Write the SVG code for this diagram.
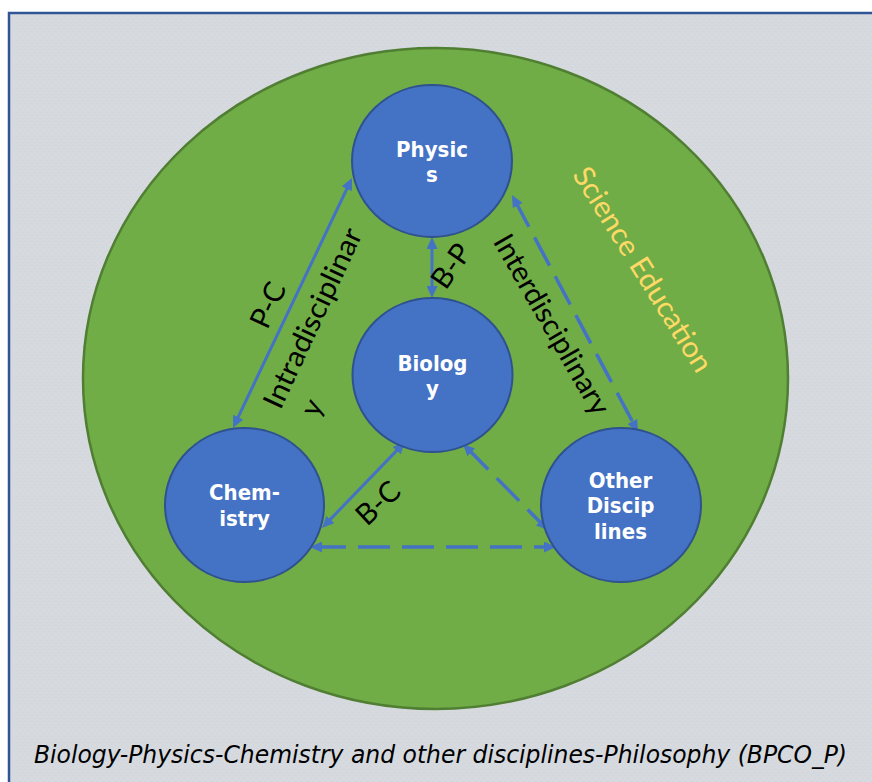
<svg xmlns="http://www.w3.org/2000/svg" width="872" height="782" viewBox="0 0 872 782">
  <style>
    .node-shape { fill: #4472C4; stroke: #2F528F; stroke-width: 2; }
    .node-label { fill: #FFFFFF; font-family: "DejaVu Sans Condensed", "DejaVu Sans", sans-serif; font-stretch: condensed; font-weight: bold; font-size: 22px; text-anchor: middle; }
    .link { fill: none; stroke: #4472C4; stroke-width: 3; }
    .dashed { stroke-width: 3.5; stroke-dasharray: 32 12; }
    .link-label { fill: #000000; font-family: Lato, "Open Sans", sans-serif; font-size: 29px; }
    .field-label { fill: #FFD966; font-family: Lato, "Open Sans", sans-serif; font-size: 29px; }
    .caption { fill: #000000; font-family: "DejaVu Sans Condensed", "DejaVu Sans", sans-serif; font-stretch: condensed; font-style: italic; font-size: 25px; }
  </style>
  <defs>
    <pattern id="dots" width="6" height="6" patternUnits="userSpaceOnUse">
      <rect width="6" height="6" fill="#D7D9DC"/>
      <circle cx="1.5" cy="1.5" r="0.8" fill="#C3D8EE"/>
      <circle cx="4.5" cy="4.5" r="0.8" fill="#C3D8EE"/>
    </pattern>
    <marker id="arrow" viewBox="0 0 12 11" refX="8" refY="5.5" markerWidth="12" markerHeight="11" markerUnits="userSpaceOnUse" orient="auto-start-reverse">
      <path d="M0,0 L12,5.5 L0,11 z" fill="#4472C4"/>
    </marker>
  </defs>

  <!-- page frame -->
  <rect x="0" y="0" width="872" height="782" fill="#FFFFFF"/>
  <rect x="9" y="13" width="880" height="800" fill="url(#dots)" stroke="#2F5597" stroke-width="2.5"/>

  <!-- outer field -->
  <g id="science-education">
    <ellipse cx="435.5" cy="378.5" rx="352.5" ry="330.5" fill="#70AD47" stroke="#507E32" stroke-width="2.5"/>
    <text class="field-label" transform="translate(642,270) rotate(58)" text-anchor="middle" y="9" textLength="236" lengthAdjust="spacingAndGlyphs">Science Education</text>
  </g>

  <!-- connectors -->
  <g id="connectors">
    <path class="link" d="M350.3,181.6 L234.7,424.4" marker-start="url(#arrow)" marker-end="url(#arrow)"/>
    <path class="link" d="M432,241 L432,294" marker-start="url(#arrow)" marker-end="url(#arrow)"/>
    <path class="link" d="M402.2,444.9 L324.8,525.1" marker-start="url(#arrow)" marker-end="url(#arrow)"/>
    <path class="link dashed" d="M465.8,446.8 L545.2,527.2" marker-start="url(#arrow)" marker-end="url(#arrow)"/>
    <path class="link dashed" d="M314,547 L552,547" marker-start="url(#arrow)" marker-end="url(#arrow)"/>
    <path class="link dashed" d="M513.9,198.5 L636.1,428.5" marker-start="url(#arrow)" marker-end="url(#arrow)"/>

    <text class="link-label" transform="translate(268,305) rotate(-65)" text-anchor="middle" y="10">P-C</text>
    <g transform="translate(313.5,318.5) rotate(-65)">
      <text class="link-label" x="0" y="9" text-anchor="middle" textLength="195" lengthAdjust="spacingAndGlyphs">Intradisciplinar</text>
      <text class="link-label" x="-89" y="46">y</text>
    </g>
    <text class="link-label" transform="translate(451,266) rotate(-55)" text-anchor="middle" y="10">B-P</text>
    <text class="link-label" transform="translate(378,503) rotate(-43)" text-anchor="middle" y="10">B-C</text>
    <text class="link-label" transform="translate(551,325) rotate(60)" text-anchor="middle" y="9" textLength="203" lengthAdjust="spacingAndGlyphs">Interdisciplinary</text>
  </g>

  <!-- disciplines -->
  <g id="physics">
    <ellipse class="node-shape" cx="432" cy="161" rx="80" ry="76"/>
    <text class="node-label" x="432" y="157">Physic</text>
    <text class="node-label" x="432" y="182">s</text>
  </g>
  <g id="biology">
    <ellipse class="node-shape" cx="432.5" cy="375" rx="80" ry="77"/>
    <text class="node-label" x="432.5" y="371">Biolog</text>
    <text class="node-label" x="432.5" y="396">y</text>
  </g>
  <g id="chemistry">
    <ellipse class="node-shape" cx="244.5" cy="505" rx="79.5" ry="77"/>
    <text class="node-label" x="244.5" y="500">Chem-</text>
    <text class="node-label" x="244.5" y="526">istry</text>
  </g>
  <g id="other-disciplines">
    <ellipse class="node-shape" cx="621" cy="505" rx="80" ry="77"/>
    <text class="node-label" x="620.5" y="488">Other</text>
    <text class="node-label" x="620.5" y="513">Discip</text>
    <text class="node-label" x="620.5" y="539">lines</text>
  </g>

  <!-- caption -->
  <text class="caption" x="34" y="763" textLength="813" lengthAdjust="spacingAndGlyphs">Biology-Physics-Chemistry and other disciplines-Philosophy (BPCO_P)</text>
</svg>
